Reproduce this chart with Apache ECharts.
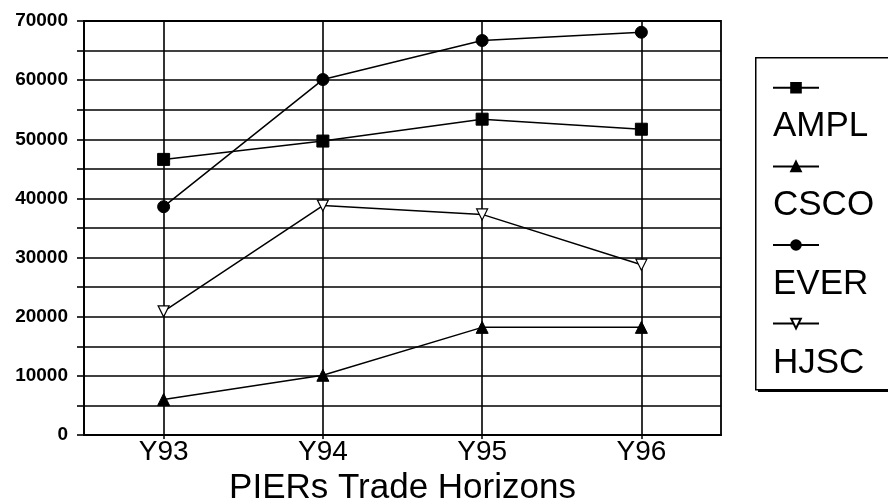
<!DOCTYPE html>
<html>
<head>
<meta charset="utf-8">
<script src="https://cdn.jsdelivr.net/npm/echarts@6/dist/echarts.min.js"></script>
<style>html,body{margin:0;padding:0;background:#fff;}#c{width:888px;height:498px;}</style>
</head>
<body>
<div id="c"></div>
<script>
const categories = ['Y93', 'Y94', 'Y95', 'Y96'];
const seriesNames = ['AMPL', 'CSCO', 'EVER', 'HJSC'];
const ampl = [46600, 49700, 53400, 51700];
const csco = [6000, 10100, 18200, 18200];
const ever = [38600, 60100, 66700, 68100];
const hjsc = [20900, 38800, 37300, 28800];
const xAxisTitle = 'PIERs Trade Horizons';

const FONT = '"Liberation Sans", Arial, Helvetica, sans-serif';
const chart = echarts.init(document.getElementById('c'), null, {renderer: 'canvas'});

function mkSeries(name, data, symbol, opts) {
  return Object.assign({
    name: name, type: 'line', data: data, symbol: symbol, symbolSize: 12,
    showAllSymbol: true,
    lineStyle: {color: '#000', width: 1.5},
    itemStyle: {color: '#000', borderColor: '#000', borderWidth: 1},
    emphasis: {disabled: true},
    animation: false, z: 5
  }, opts || {});
}

const option = {
  animation: false,
  backgroundColor: '#fff',
  grid: {left: 84, right: 167, top: 21, bottom: 63, outerBoundsMode: 'none', containLabel: false,
    show: true, borderColor: '#000', borderWidth: 1.8, backgroundColor: 'transparent'},
  xAxis: {
    type: 'category', data: categories, boundaryGap: true,
    name: xAxisTitle, nameLocation: 'middle', nameGap: 28,
    nameTextStyle: {fontFamily: FONT, fontSize: 35, color: '#000'},
    axisLine: {lineStyle: {color: '#000', width: 1.8}},
    axisTick: {show: true, alignWithLabel: true, length: 4, lineStyle: {color: '#000', width: 1.5}},
    axisLabel: {fontFamily: FONT, fontSize: 28, color: '#000', margin: 3},
    splitLine: {show: true, alignWithLabel: true, lineStyle: {color: '#000', width: 1.6}}
  },
  yAxis: {
    type: 'value', min: 0, max: 70000, interval: 5000,
    axisLine: {show: true, lineStyle: {color: '#000', width: 1.8}},
    axisTick: {show: true, length: 7, lineStyle: {color: '#000', width: 1.6}},
    axisLabel: {fontFamily: FONT, fontSize: 19, fontWeight: 'bold', color: '#000', margin: 16,
      formatter: function (v) { return v % 10000 === 0 ? String(v) : ''; }},
    splitLine: {show: true, lineStyle: {color: '#000', width: 1.6}}
  },
  legend: [
    {
      data: seriesNames, orient: 'vertical', left: 767, top: 77,
      itemWidth: 46, itemHeight: 12, itemGap: 67, selectedMode: false,
      formatter: function () { return ''; },
      textStyle: {fontSize: 1, lineHeight: 1}, z: 10
    },
    {
      data: seriesNames.map(function (n) { return {name: n, itemStyle: {opacity: 0}, lineStyle: {opacity: 0}}; }),
      orient: 'vertical', left: 762, top: 104,
      itemWidth: 0, itemHeight: 0, itemGap: 44, selectedMode: false,
      textStyle: {fontFamily: FONT, fontSize: 35, color: '#000', lineHeight: 35}, z: 10
    }
  ],
  graphic: [
    {type: 'rect', left: 758, top: 60, shape: {x: 0, y: 0, width: 150, height: 332}, style: {fill: '#000'}, z: 1},
    {type: 'rect', left: 755, top: 57, shape: {x: 0, y: 0, width: 150, height: 332}, style: {fill: '#fff', stroke: '#000', lineWidth: 1.5}, z: 2}
  ],
  series: [
    mkSeries('AMPL', ampl, 'rect'),
    mkSeries('CSCO', csco, 'triangle', {symbolSize: 12}),
    mkSeries('EVER', ever, 'circle'),
    mkSeries('HJSC', hjsc, 'triangle', {symbolRotate: 180, symbolSize: 11, itemStyle: {color: '#fff', borderColor: '#000', borderWidth: 1.2}})
  ]
};
chart.setOption(option);
</script>
</body>
</html>
